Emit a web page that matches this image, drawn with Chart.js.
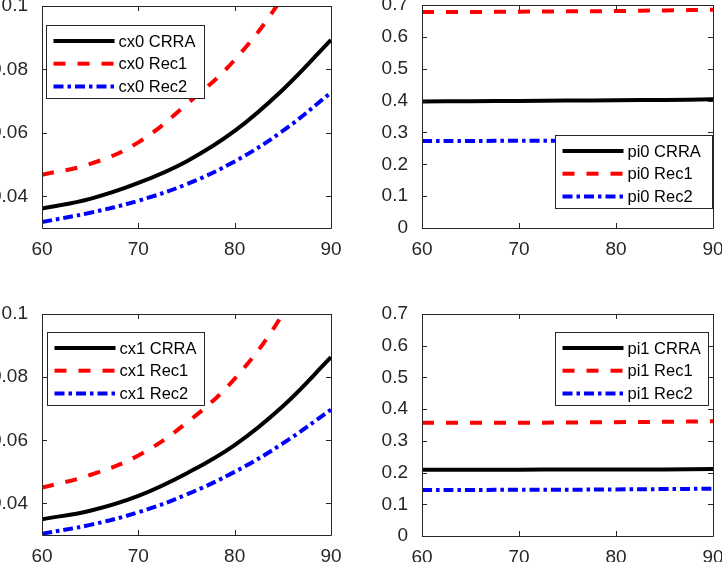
<!DOCTYPE html>
<html>
<head>
<meta charset="utf-8">
<script src="https://cdn.jsdelivr.net/npm/chart.js@4/dist/chart.umd.min.js"></script>
<style>
    html, body { margin: 0; padding: 0; background: #fff; }
    #wrap { position: relative; width: 722px; height: 562px; overflow: hidden; }
    .cell { position: absolute; width: 361px; height: 281px; }
</style>
</head>
<body>
<div id="wrap">
    <div class="cell" style="left:0;top:0"><canvas id="c-cx0"></canvas></div>
    <div class="cell" style="left:361px;top:0"><canvas id="c-pi0"></canvas></div>
    <div class="cell" style="left:0;top:281px"><canvas id="c-cx1"></canvas></div>
    <div class="cell" style="left:361px;top:281px"><canvas id="c-pi1"></canvas></div>
</div>
<script>
// Данные
const ages = [60, 65, 70, 75, 80, 85, 90];
const xTicks = [60, 70, 80, 90];
const cxTicks = [0.04, 0.06, 0.08, 0.1];
const piTicks = [0, 0.1, 0.2, 0.3, 0.4, 0.5, 0.6, 0.7];
const seriesNames = ['CRRA', 'Rec1', 'Rec2'];

const cx0Crra = [0.0361, 0.0392, 0.0442, 0.0510, 0.0606, 0.0736, 0.0893];
const cx0Rec1 = [0.0468, 0.0502, 0.0570, 0.0690, 0.0830, 0.1030, 0.1300];
const cx0Rec2 = [0.0319, 0.0348, 0.0386, 0.0438, 0.0510, 0.0606, 0.0727];

const pi0Crra = [0.397, 0.398, 0.399, 0.400, 0.401, 0.402, 0.404];
const pi0Rec1 = [0.678, 0.678, 0.679, 0.680, 0.681, 0.683, 0.685];
const pi0Rec2 = [0.273, 0.273, 0.274, 0.274, 0.275, 0.276, 0.278];

const cx1Crra = [0.0350, 0.0377, 0.0424, 0.0495, 0.0585, 0.0708, 0.0863];
const cx1Rec1 = [0.0450, 0.0490, 0.0552, 0.0655, 0.0795, 0.1000, 0.1280];
const cx1Rec2 = [0.0304, 0.0332, 0.0372, 0.0428, 0.0500, 0.0590, 0.0697];

const pi1Crra = [0.209, 0.209, 0.209, 0.210, 0.210, 0.210, 0.211];
const pi1Rec1 = [0.357, 0.357, 0.357, 0.358, 0.359, 0.360, 0.362];
const pi1Rec2 = [0.145, 0.145, 0.146, 0.146, 0.147, 0.148, 0.149];

const FONT = 'Liberation Sans, Arial, Helvetica, sans-serif';
const AXIS_COLOR = '#262626';

// стили линий как в MATLAB: сплошная, '--', '-.'
const lineStyles = [
    { color: '#000000', dash: [] },
    { color: '#ff0000', dash: [12, 12] },
    { color: '#0000ff', dash: [10, 4, 3.5, 4] }
];

// рамка осей и засечки внутрь со всех четырёх сторон
const matlabBox = {
    id: 'matlabBox',
    afterDatasetsDraw(chart) {
        const { ctx, chartArea: a, scales } = chart;
        const len = 5;
        ctx.save();
        ctx.strokeStyle = AXIS_COLOR;
        ctx.lineWidth = 1;
        ctx.beginPath();
        ctx.rect(Math.round(a.left) + 0.5, Math.round(a.top) + 0.5,
                 Math.round(a.right - a.left), Math.round(a.bottom - a.top));
        scales.x.ticks.forEach(t => {
            const px = Math.round(scales.x.getPixelForValue(t.value)) + 0.5;
            ctx.moveTo(px, a.bottom); ctx.lineTo(px, a.bottom - len);
            ctx.moveTo(px, a.top); ctx.lineTo(px, a.top + len);
        });
        scales.y.ticks.forEach(t => {
            const py = Math.round(scales.y.getPixelForValue(t.value)) + 0.5;
            ctx.moveTo(a.left, py); ctx.lineTo(a.left + len, py);
            ctx.moveTo(a.right, py); ctx.lineTo(a.right - len, py);
        });
        ctx.stroke();
        ctx.restore();
    }
};

// легенда внутри области графика
const insetLegend = {
    id: 'insetLegend',
    afterDraw(chart, args, opts) {
        const { ctx, chartArea: a } = chart;
        const x = Math.round(a.left + opts.left) + 0.5;
        const y = Math.round(a.top + opts.top) + 0.5;
        const w = opts.width, h = 73;
        ctx.save();
        ctx.fillStyle = '#fff';
        ctx.fillRect(x, y, w, h);
        ctx.strokeStyle = AXIS_COLOR;
        ctx.lineWidth = 1;
        ctx.strokeRect(x, y, w, h);
        ctx.font = '16.5px ' + FONT;
        ctx.textBaseline = 'middle';
        chart.data.datasets.forEach((ds, i) => {
            const ry = y + 15.5 + i * 22.7;
            ctx.strokeStyle = ds.borderColor;
            ctx.lineWidth = ds.borderWidth;
            ctx.setLineDash(ds.borderDash || []);
            ctx.beginPath();
            ctx.moveTo(x + 7, ry);
            ctx.lineTo(x + 68, ry);
            ctx.stroke();
            ctx.setLineDash([]);
            ctx.fillStyle = '#000';
            ctx.fillText(ds.label, x + 72, ry + 1);
        });
        ctx.restore();
    }
};

function makeChart(id, prefix, values, yMin, yMax, yTicks, geo) {
    const datasets = values.map((vals, i) => ({
        label: prefix + ' ' + seriesNames[i],
        data: ages.map((a, k) => ({ x: a, y: vals[k] })),
        borderColor: lineStyles[i].color,
        borderDash: lineStyles[i].dash,
        borderWidth: 4,
        borderCapStyle: 'butt',
        pointRadius: 0,
        tension: 0.4,
        fill: false
    }));

    return new Chart(document.getElementById(id), {
        type: 'line',
        data: { datasets },
        options: {
            responsive: true,
            maintainAspectRatio: false,
            animation: false,
            layout: { padding: { top: geo.padTop, right: geo.padRight, left: 0, bottom: 0 } },
            plugins: {
                legend: { display: false },
                tooltip: { enabled: false },
                insetLegend: geo.legend
            },
            scales: {
                x: {
                    type: 'linear',
                    min: 60,
                    max: 90,
                    grid: { display: false },
                    border: { display: false },
                    afterBuildTicks(scale) { scale.ticks = xTicks.map(v => ({ value: v })); },
                    afterFit(scale) {
                        scale.height = geo.xHeight;
                        scale.paddingLeft = 0;
                        scale.paddingRight = 0;
                    },
                    ticks: {
                        color: AXIS_COLOR,
                        font: { family: FONT, size: 19 },
                        padding: 2.5,
                        maxRotation: 0,
                        callback: v => String(v)
                    }
                },
                y: {
                    type: 'linear',
                    min: yMin,
                    max: yMax,
                    grid: { display: false },
                    border: { display: false },
                    afterBuildTicks(scale) { scale.ticks = yTicks.map(v => ({ value: v })); },
                    afterFit(scale) {
                        scale.width = geo.yWidth;
                        scale.paddingTop = 0;
                        scale.paddingBottom = 0;
                    },
                    ticks: {
                        color: AXIS_COLOR,
                        font: { family: FONT, size: 19 },
                        padding: 6,
                        callback: v => String(v)
                    }
                }
            }
        },
        plugins: [matlabBox, insetLegend]
    });
}

makeChart('c-cx0', 'cx0', [cx0Crra, cx0Rec1, cx0Rec2], 0.03, 0.1, cxTicks,
    { padTop: 6, padRight: 30, yWidth: 42, xHeight: 53, legend: { left: 4, top: 19, width: 158 } });
makeChart('c-pi0', 'pi0', [pi0Crra, pi0Rec1, pi0Rec2], 0, 0.7, piTicks,
    { padTop: 5, padRight: 9, yWidth: 61, xHeight: 53, legend: { left: 133, top: 130, width: 157 } });
makeChart('c-cx1', 'cx1', [cx1Crra, cx1Rec1, cx1Rec2], 0.03, 0.1, cxTicks,
    { padTop: 33, padRight: 30, yWidth: 42, xHeight: 27, legend: { left: 5, top: 18, width: 157 } });
makeChart('c-pi1', 'pi1', [pi1Crra, pi1Rec1, pi1Rec2], 0, 0.7, piTicks,
    { padTop: 33, padRight: 9, yWidth: 61, xHeight: 26, legend: { left: 133, top: 18, width: 153 } });
</script>
</body>
</html>
